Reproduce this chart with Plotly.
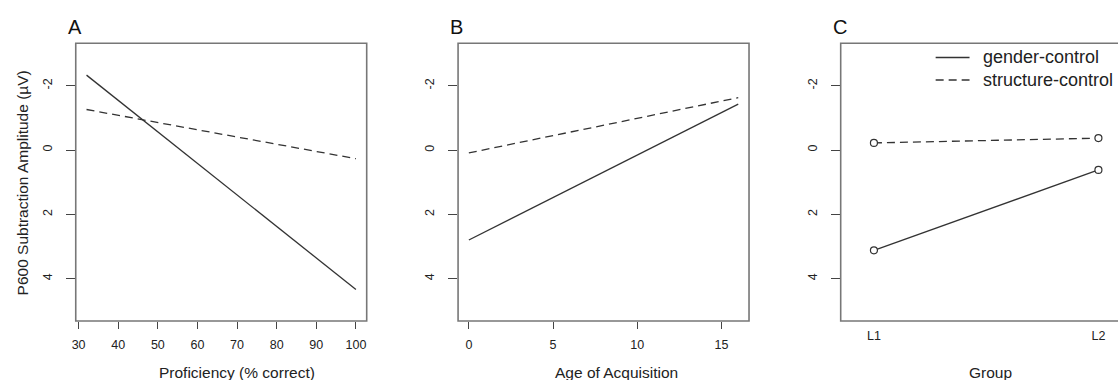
import plotly.graph_objects as go

# ---- data ----
prof_x = [32, 100]
prof_gender = [-2.33, 4.34]
prof_structure = [-1.26, 0.27]

aoa_x = [0, 16]
aoa_gender = [2.80, -1.43]
aoa_structure = [0.09, -1.63]

groups = ["L1", "L2"]
group_gender = [3.12, 0.62]
group_structure = [-0.22, -0.37]

y_ticks = [-2, 0, 2, 4]
prof_ticks = [30, 40, 50, 60, 70, 80, 90, 100]
aoa_ticks = [0, 5, 10, 15]
series_names = ["gender-control", "structure-control"]
panel_letters = ["A", "B", "C"]
x_titles = ["Proficiency (% correct)", "Age of Acquisition", "Group"]
y_title = "P600 Subtraction Amplitude (µV)"

# ---- layout geometry (pixels) ----
W, H = 1118, 380
FONT = "Liberation Sans, Arial, Helvetica, sans-serif"
LINE_COL = "#333333"
BOX_COL = "#777777"
TICK_COL = "#444444"
TXT_COL = "#222222"
DASH = "8px,5px"

panels_px = [(72, 364), (455.7, 747.7), (839.7, 1131.7)]
y_top_px, y_bot_px = 43.3, 321.0


def px_x(v):
    return v / W


def px_y(v):
    return 1 - v / H


fig = go.Figure()

# Panel A
fig.add_trace(go.Scatter(x=prof_x, y=prof_gender, mode="lines", name=series_names[0],
                         line=dict(color=LINE_COL, width=1.3), xaxis="x", yaxis="y"))
fig.add_trace(go.Scatter(x=prof_x, y=prof_structure, mode="lines", name=series_names[1],
                         line=dict(color=LINE_COL, width=1.3, dash=DASH), xaxis="x", yaxis="y"))
# Panel B
fig.add_trace(go.Scatter(x=aoa_x, y=aoa_gender, mode="lines", name=series_names[0],
                         line=dict(color=LINE_COL, width=1.3), xaxis="x2", yaxis="y2"))
fig.add_trace(go.Scatter(x=aoa_x, y=aoa_structure, mode="lines", name=series_names[1],
                         line=dict(color=LINE_COL, width=1.3, dash=DASH), xaxis="x2", yaxis="y2"))
# Panel C
marker = dict(symbol="circle", size=7, color="white", line=dict(color=LINE_COL, width=1.2))
fig.add_trace(go.Scatter(x=groups, y=group_gender, mode="lines+markers", name=series_names[0],
                         line=dict(color=LINE_COL, width=1.3), marker=marker,
                         xaxis="x3", yaxis="y3"))
fig.add_trace(go.Scatter(x=groups, y=group_structure, mode="lines+markers", name=series_names[1],
                         line=dict(color=LINE_COL, width=1.3, dash=DASH), marker=marker,
                         xaxis="x3", yaxis="y3"))

ydom = [px_y(y_bot_px), px_y(y_top_px)]
common_y = dict(range=[5.32, -3.32], tickvals=y_ticks, ticktext=[str(v) for v in y_ticks],
                ticks="outside", ticklen=9, tickcolor=TICK_COL, tickwidth=1,
                tickangle=-90, showgrid=False, zeroline=False, showline=False,
                tickfont=dict(family=FONT, size=12.5, color=TXT_COL), domain=ydom,
                ticklabelstandoff=9)
common_x = dict(ticks="outside", ticklen=7, tickcolor=TICK_COL, tickwidth=1,
                showgrid=False, zeroline=False, showline=False,
                tickfont=dict(family=FONT, size=12.5, color=TXT_COL),
                ticklabelstandoff=5)

pad_a = (max(prof_x) - min(prof_x)) * 0.04
pad_b = (max(aoa_x) - min(aoa_x)) * 0.04
c_left = -0.148
c_right = c_left + (W - panels_px[2][0]) / (panels_px[2][1] - panels_px[2][0]) * 1.296

fig.update_layout(
    width=W, height=H, margin=dict(l=0, r=0, t=0, b=0),
    paper_bgcolor="white", plot_bgcolor="white", showlegend=False,
    font=dict(family=FONT, color=TXT_COL),
    xaxis=dict(common_x, domain=[px_x(panels_px[0][0]), px_x(panels_px[0][1])],
               range=[min(prof_x) - pad_a, max(prof_x) + pad_a], tickvals=prof_ticks),
    yaxis=dict(common_y, anchor="x"),
    xaxis2=dict(common_x, domain=[px_x(panels_px[1][0]), px_x(panels_px[1][1])],
                range=[min(aoa_x) - pad_b, max(aoa_x) + pad_b], tickvals=aoa_ticks),
    yaxis2=dict(common_y, anchor="x2"),
    xaxis3=dict(common_x, domain=[px_x(panels_px[2][0]), 1.0], type="category",
                range=[c_left, c_right], ticks=""),
    yaxis3=dict(common_y, anchor="x3"),
)

shapes = []
annotations = []
for i, (x0, x1) in enumerate(panels_px):
    # plot box
    shapes.append(dict(type="rect", xref="paper", yref="paper",
                       x0=px_x(x0), x1=px_x(x1), y0=ydom[0], y1=ydom[1],
                       line=dict(color=BOX_COL, width=1.6), layer="above"))
    # panel letter
    annotations.append(dict(text=panel_letters[i], xref="paper", yref="paper",
                            x=px_x(x0 - 10), y=px_y(27), xanchor="left", yanchor="middle",
                            showarrow=False, font=dict(family=FONT, size=20, color="#111111")))

title_cx = [234, 614.5, 990]
for i, t in enumerate(x_titles):
    annotations.append(dict(text=t, xref="paper", yref="paper", x=px_x(title_cx[i]),
                            y=px_y(372), xanchor="center", yanchor="middle", showarrow=False,
                            font=dict(family=FONT, size=15.5, color=TXT_COL)))

annotations.append(dict(text=y_title, xref="paper", yref="paper", x=px_x(19), y=px_y(182.5),
                        xanchor="center", yanchor="middle", textangle=-90, showarrow=False,
                        font=dict(family=FONT, size=15.5, color=TXT_COL)))

# legend (panel C)
leg_rows = [57.5, 80]
for i, name in enumerate(series_names):
    shapes.append(dict(type="line", xref="paper", yref="paper",
                       x0=px_x(935), x1=px_x(969), y0=px_y(leg_rows[i]), y1=px_y(leg_rows[i]),
                       line=dict(color=LINE_COL, width=1.3, dash=None if i == 0 else DASH)))
    annotations.append(dict(text=name, xref="paper", yref="paper", x=px_x(981),
                            y=px_y(leg_rows[i]), xanchor="left", yanchor="middle",
                            showarrow=False, font=dict(family=FONT, size=18, color=TXT_COL)))

fig.update_layout(shapes=shapes, annotations=annotations)
fig.write_html("out.html", config={"displayModeBar": False},
               post_script="document.body.style.margin='0';document.body.style.overflow='hidden';")
